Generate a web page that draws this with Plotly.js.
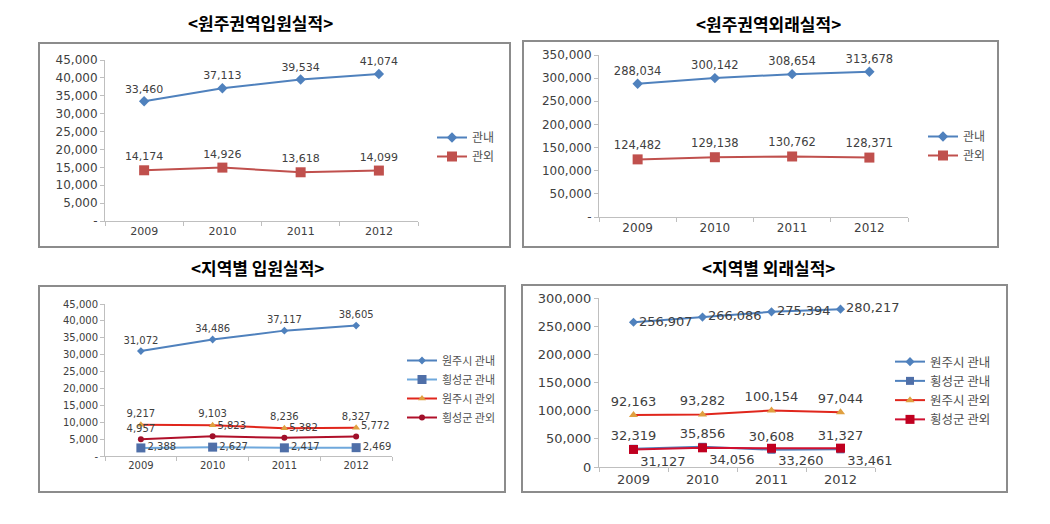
<!DOCTYPE html>
<html><head><meta charset="utf-8">
<script src="https://cdn.plot.ly/plotly-3.0.1.min.js"></script>
<style>html,body{margin:0;padding:0;background:#fff}#c{width:1050px;height:524px}</style>
</head><body><div id="c"></div>
<script>
// ---------- data ----------
const years = ['2009','2010','2011','2012'];

const titleTL = '&lt;원주권역입원실적&gt;';
const titleTR = '&lt;원주권역외래실적&gt;';
const titleBL = '&lt;지역별 입원실적&gt;';
const titleBR = '&lt;지역별 외래실적&gt;';

// 원주권역 입원
const inpatientIn  = [33460, 37113, 39534, 41074]; // 관내
const inpatientOut = [14174, 14926, 13618, 14099]; // 관외
// 원주권역 외래
const outpatientIn  = [288034, 300142, 308654, 313678];
const outpatientOut = [124482, 129138, 130762, 128371];
// 지역별 입원
const wonjuInIP      = [31072, 34486, 37117, 38605];
const hoengInIP      = [2388, 2627, 2417, 2469];
const wonjuOutIP     = [9217, 9103, 8236, 8327];
const hoengOutIP     = [4957, 5823, 5382, 5772];
// 지역별 외래
const wonjuInOP      = [256907, 266086, 275394, 280217];
const hoengInOP      = [32319, 35856, 30608, 31327];
const wonjuOutOP     = [92163, 93282, 100154, 97044];
const hoengOutOP     = [31127, 34056, 33260, 33461];

const namesTop = ['관내', '관외'];
const namesBottom = ['원주시 관내', '횡성군 관내', '원주시 관외', '횡성군 관외'];

const ticks45 = [0,5000,10000,15000,20000,25000,30000,35000,40000,45000];
const ticks45Text = ['-','5,000','10,000','15,000','20,000','25,000','30,000','35,000','40,000','45,000'];
const ticks350 = [0,50000,100000,150000,200000,250000,300000,350000];
const ticks350Text = ['-','50,000','100,000','150,000','200,000','250,000','300,000','350,000'];
const ticks300 = [0,50000,100000,150000,200000,250000,300000];
const ticks300Text = ['0','50,000','100,000','150,000','200,000','250,000','300,000'];

// ---------- layout helpers ----------
const W = 1050, H = 524;
const px = v => v / W;
const py = v => 1 - v / H;
const fmt = a => a.map(v => v.toLocaleString('en-US'));
const FONT = 'DejaVu Sans, Noto Sans CJK KR, sans-serif';
const KFONT = 'Noto Sans CJK KR, sans-serif';
const BLUE = '#4F81BD', RED = '#C0504D';

function tr(ax, y, name, legend, color, symbol, msize, mcolor, tpos, tsize, lw) {
  const sfx = ax === 1 ? '' : String(ax);
  return {
    x: years, y: y, name: name, type: 'scatter', mode: 'lines+markers+text',
    xaxis: 'x' + sfx, yaxis: 'y' + sfx, legend: legend,
    line: {color: color, width: lw || 2},
    marker: {symbol: symbol, size: msize, color: mcolor || color},
    text: fmt(y), textposition: tpos, cliponaxis: false,
    textfont: {family: FONT, size: tsize, color: '#404040'},
    hoverinfo: 'skip'
  };
}

const traces = [
  tr(1, inpatientIn, namesTop[0], 'legend', BLUE, 'diamond', 8, null, 'top center', 11),
  tr(1, inpatientOut, namesTop[1], 'legend', RED, 'square', 10, null, 'top center', 11),
  tr(2, outpatientIn, namesTop[0], 'legend2', BLUE, 'diamond', 8, null, 'top center', 11.5),
  tr(2, outpatientOut, namesTop[1], 'legend2', RED, 'square', 10, null, 'top center', 11.5),
  tr(3, wonjuInIP, namesBottom[0], 'legend3', BLUE, 'diamond', 6, null, 'top center', 10),
  tr(3, hoengInIP, namesBottom[1], 'legend3', '#6FA8DC', 'square', 9, '#4F6FA8', 'middle right', 10),
  tr(3, wonjuOutIP, namesBottom[2], 'legend3', '#E0261C', 'triangle-up', 7, '#E0A040', 'top center', 10),
  tr(3, hoengOutIP, namesBottom[3], 'legend3', '#B0102A', 'circle', 6, '#A0102A',
     ['top center','top right','top right','top right'], 10),
  tr(4, wonjuInOP, namesBottom[0], 'legend4', BLUE, 'diamond', 7, null, 'middle right', 13),
  tr(4, hoengInOP, namesBottom[1], 'legend4', BLUE, 'square', 8, '#4F6FA8', 'top center', 13),
  tr(4, wonjuOutOP, namesBottom[2], 'legend4', '#E0261C', 'triangle-up', 8, '#E0A040', 'top center', 13),
  tr(4, hoengOutOP, namesBottom[3], 'legend4', '#D01030', 'square', 9, '#C00020', 'bottom right', 13),
];

function xax(l, r, anchor, fsize) {
  return {domain: [px(l), px(r)], anchor: anchor, type: 'category', range: [-0.5, 3.5],
    showgrid: false, zeroline: false, showline: true, linecolor: '#BFBFBF', linewidth: 1,
    ticks: 'outside', tickson: 'boundaries', ticklen: 4, tickcolor: '#BFBFBF',
    tickfont: {family: FONT, size: fsize, color: '#404040'}, fixedrange: true};
}
function yax(top, bot, anchor, vals, txt, fsize) {
  return {domain: [py(bot), py(top)], anchor: anchor, range: [0, vals[vals.length-1]],
    tickvals: vals, ticktext: txt, showgrid: false, zeroline: false,
    showline: true, linecolor: '#BFBFBF', linewidth: 1,
    ticks: 'outside', ticklen: 4, tickcolor: '#BFBFBF',
    tickfont: {family: FONT, size: fsize, color: '#404040'}, fixedrange: true};
}
function box(x0, y0, x1, y1) {
  return {type: 'rect', xref: 'paper', yref: 'paper', x0: px(x0), x1: px(x1), y0: py(y1), y1: py(y0),
    line: {color: '#8C8C8C', width: 2}, layer: 'below'};
}
function ttl(text, x, y) {
  return {text: '<b>' + text + '</b>', xref: 'paper', yref: 'paper', x: px(x), y: py(y),
    xanchor: 'center', yanchor: 'middle', showarrow: false,
    font: {family: KFONT, size: 17, color: '#000'}};
}
function leg(x, y, fsize) {
  return {x: px(x), y: py(y), xanchor: 'left', yanchor: 'top', bgcolor: 'rgba(0,0,0,0)',
    font: {family: KFONT, size: fsize, color: '#505050'}, itemwidth: 30, tracegroupgap: 0};
}

const layout = {
  width: W, height: H, margin: {l: 0, r: 0, t: 0, b: 0},
  paper_bgcolor: '#fff', plot_bgcolor: 'rgba(0,0,0,0)', showlegend: true,
  xaxis: xax(105, 418, 'y', 11),
  yaxis: yax(60, 221, 'x', ticks45, ticks45Text, 12),
  xaxis2: xax(599, 908, 'y2', 12),
  yaxis2: yax(55, 217, 'x2', ticks350, ticks350Text, 12),
  xaxis3: xax(105, 392, 'y3', 10),
  yaxis3: yax(304, 456, 'x3', ticks45, ticks45Text, 10),
  xaxis4: xax(599, 875, 'y4', 13),
  yaxis4: yax(298, 467, 'x4', ticks300, ticks300Text, 13),
  legend: leg(432, 123, 12),
  legend2: leg(923, 122, 12),
  legend3: leg(402, 346, 11),
  legend4: leg(890, 347, 12.5),
  shapes: [box(39, 43, 510, 247), box(523, 41, 998, 247), box(39, 286, 505, 492), box(522, 285, 1007, 492)],
  annotations: [ttl(titleTL, 260, 22), ttl(titleTR, 768, 24), ttl(titleBL, 257, 267), ttl(titleBR, 768, 267)]
};

Plotly.newPlot('c', traces, layout, {staticPlot: true, displayModeBar: false});
</script></body></html>
